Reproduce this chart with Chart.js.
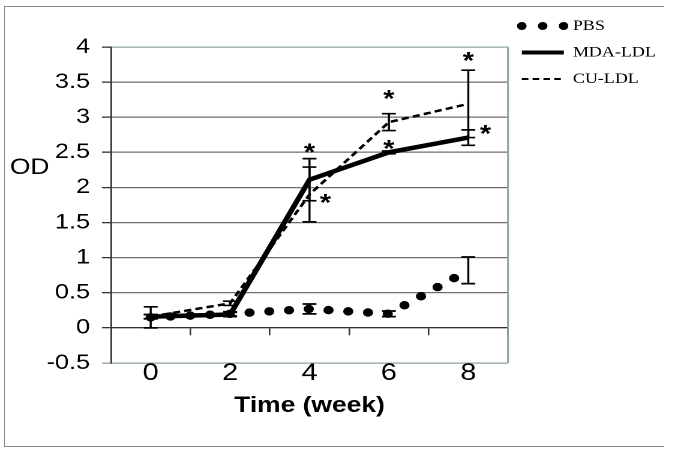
<!DOCTYPE html>
<html>
<head>
<meta charset="utf-8">
<script src="https://cdn.jsdelivr.net/npm/chart.js@4/dist/chart.umd.min.js"></script>
<style>
  html, body { margin: 0; padding: 0; background: #fff; }
  #wrap { position: relative; width: 685px; height: 451px; overflow: hidden; }
  #c { position: absolute; left: 0; top: 0; transform: scaleX(1.2); transform-origin: 0 0; }
  #frame { position: absolute; left: 4px; top: 6px; width: 659px; height: 439px;
           border-top: 1.5px solid #8a8a8a; border-left: 1.5px solid #8a8a8a; border-bottom: 1.5px solid #8a8a8a;
           pointer-events: none; }
</style>
</head>
<body>
<div id="wrap">
  <canvas id="c"></canvas>
  <div id="frame"></div>
</div>
<script>
// ---- data ----
const weeks = ['0', '2', '4', '6', '8'];
const pbs = [0.15, 0.20, 0.27, 0.20, 0.82];
const mda = [0.16, 0.19, 2.11, 2.50, 2.71];
const cu  = [0.16, 0.35, 1.90, 2.93, 3.19];
const pbsErr = [0.15, 0.03, 0.07, 0.04, 0.19];
const mdaErr = [0.03, 0.03, 0.30, 0.02, 0.11];
const cuErr  = [0.03, 0.03, 0.39, 0.12, 0.48];
const starWeek  = [4, 4.4, 6, 6, 8, 8.43];
const starValue = [2.59, 1.87, 3.35, 2.64, 3.89, 2.85];
const yMin = -0.5, yMax = 4, yStep = 0.5;
const seriesNames = ['PBS', 'MDA-LDL', 'CU-LDL'];

const BORDER = '#8fa0a6';
const GRID = '#6e6e6e';
const AXIS = '#333333';

const extras = {
  id: 'extras',
  beforeDatasetsDraw(chart) {
    const {ctx, chartArea} = chart;
    ctx.save();
    ctx.strokeStyle = BORDER;
    ctx.lineWidth = 1.5;
    ctx.beginPath();
    ctx.moveTo(chartArea.right, chartArea.top);
    ctx.lineTo(chartArea.right, chartArea.bottom);
    ctx.stroke();
    ctx.restore();
  },
  afterDatasetsDraw(chart) {
    const {ctx, scales} = chart;
    const x = scales.x, y = scales.y;
    const cap = 5.8;
    ctx.save();
    ctx.strokeStyle = '#000';
    ctx.lineWidth = 1.7;
    [[pbs, pbsErr], [mda, mdaErr], [cu, cuErr]].forEach(([vals, errs]) => {
      vals.forEach((v, i) => {
        const px = x.getPixelForValue(i);
        const top = y.getPixelForValue(v + errs[i]);
        const bot = y.getPixelForValue(v - errs[i]);
        ctx.beginPath();
        ctx.moveTo(px, top); ctx.lineTo(px, bot);
        ctx.moveTo(px - cap, top); ctx.lineTo(px + cap, top);
        ctx.moveTo(px - cap, bot); ctx.lineTo(px + cap, bot);
        ctx.stroke();
      });
    });
    const fs = 24;
    ctx.fillStyle = '#000';
    ctx.font = 'bold ' + fs + 'px "Liberation Sans", Arial, sans-serif';
    ctx.textAlign = 'center';
    ctx.textBaseline = 'alphabetic';
    starWeek.forEach((w, i) => {
      const px = x.getPixelForValue(w / 2);
      const py = y.getPixelForValue(starValue[i]);
      ctx.fillText('*', px, py + 0.575 * fs);
    });
    ctx.restore();
  },
  afterDraw(chart) {
    const {ctx} = chart;
    ctx.save();
    ctx.fillStyle = '#000';
    ctx.font = '22px "Liberation Sans", Arial, sans-serif';
    ctx.textAlign = 'center';
    ctx.textBaseline = 'middle';
    ctx.fillText('OD', 24.7, 168);
    ctx.restore();
  }
};

const canvas = document.getElementById('c');
canvas.style.width = '571px';
canvas.style.height = '451px';

new Chart(canvas, {
  type: 'line',
  data: {
    labels: weeks,
    datasets: [
      { label: seriesNames[0], data: pbs, borderColor: '#000', backgroundColor: '#000',
        borderWidth: 8.5, borderDash: [0, 16.5], borderCapStyle: 'round', pointRadius: 0, fill: false, tension: 0 },
      { label: seriesNames[1], data: mda, borderColor: '#000', backgroundColor: '#000',
        borderWidth: 4.5, borderCapStyle: 'butt', pointRadius: 0, fill: false, tension: 0 },
      { label: seriesNames[2], data: cu, borderColor: '#000', backgroundColor: '#000',
        borderWidth: 2.5, borderDash: [6, 3.5], pointRadius: 0, fill: false, tension: 0 }
    ]
  },
  options: {
    responsive: false,
    animation: false,
    devicePixelRatio: 2,
    layout: { padding: { top: 7, left: 0, right: 14.5, bottom: 0 } },
    plugins: {
      tooltip: { enabled: false },
      title: { display: false },
      legend: {
        position: 'right',
        align: 'start',
        labels: {
          usePointStyle: true,
          pointStyle: 'line',
          pointStyleWidth: 35,
          padding: 11.5,
          color: '#000',
          font: { family: '"Liberation Serif", "Times New Roman", serif', size: 15 },
          generateLabels(chart) {
            const items = Chart.defaults.plugins.legend.labels.generateLabels(chart);
            items.forEach((it, i) => {
              it.fillStyle = '#000';
              it.strokeStyle = '#000';
              if (i === 0) { it.lineDash = [0, 17.4]; it.lineCap = 'round'; it.lineWidth = 8; }
              if (i === 1) { it.lineWidth = 4; }
              if (i === 2) { it.lineWidth = 2; it.lineDash = [5.5, 3.5]; }
            });
            return items;
          }
        }
      }
    },
    scales: {
      x: {
        type: 'category',
        position: 'bottom',
        offset: true,
        grid: { display: false, offset: true },
        border: { display: false },
        ticks: { color: '#000', padding: -12, font: { family: '"Liberation Sans", Arial, sans-serif', size: 24 } },
        title: { display: true, text: 'Time (week)', color: '#000',
                 font: { family: '"Liberation Sans", Arial, sans-serif', size: 22, weight: 'bold' },
                 padding: { top: 0, bottom: 32 } },
        afterFit(scale) { scale.height = 88; }
      },
      x2: {
        type: 'category',
        axis: 'x',
        position: { y: 0 },
        offset: true,
        grid: { offset: true, drawOnChartArea: false, drawTicks: true, tickLength: 7, color: AXIS, lineWidth: 1.3 },
        border: { display: true, color: AXIS, width: 1.3 },
        ticks: { display: false }
      },
      y: {
        type: 'linear',
        position: 'left',
        min: yMin, max: yMax,
        ticks: { stepSize: yStep, color: '#000', padding: 10,
                 callback: v => String(Math.round(v * 10) / 10),
                 font: { family: '"Liberation Sans", Arial, sans-serif', size: 21 } },
        grid: {
          color: c => (c.tick && (c.tick.value === yMin || c.tick.value === yMax)) ? BORDER : GRID,
          tickColor: c => (c.tick && c.tick.value === yMin) ? BORDER : AXIS,
          lineWidth: 1.3,
          tickLength: 7.5
        },
        border: { display: true, color: AXIS, width: 1.4 },
        afterFit(scale) { scale.width = 92.5; scale.paddingTop = 47; }
      }
    }
  },
  plugins: [extras]
});
</script>
</body>
</html>
